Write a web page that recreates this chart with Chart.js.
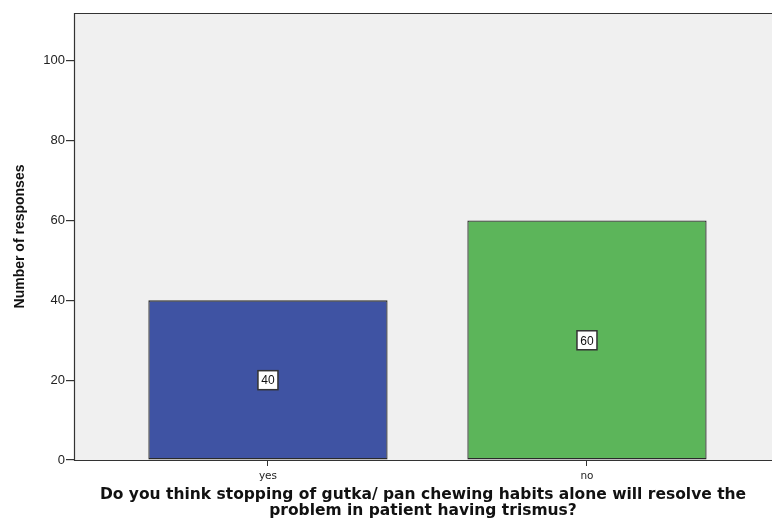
<!DOCTYPE html>
<html>
<head>
<meta charset="utf-8">
<script src="https://cdn.jsdelivr.net/npm/chart.js@4/dist/chart.umd.min.js"></script>
<style>
  html, body { margin: 0; padding: 0; background: #ffffff; }
  #wrap { width: 772px; height: 525px; }
</style>
</head>
<body>
<div id="wrap"><canvas id="chart" width="772" height="525"></canvas></div>
<script>
// Responses per answer
const categories = ['yes', 'no'];
const responses = [40, 60];
const yTicks = [0, 20, 40, 60, 80, 100];
const barColors = ['#3f53a3', '#5cb55a'];

// Outline the plot area (left, bottom and top edges) on a light grey panel
const panelPlugin = {
  id: 'panel',
  beforeDraw(chart) {
    const { ctx, chartArea: a } = chart;
    ctx.save();
    ctx.fillStyle = '#f0f0f0';
    ctx.fillRect(a.left, a.top, a.right - a.left, a.bottom - a.top);
    ctx.restore();
  },
  afterDatasetsDraw(chart) {
    const { ctx, chartArea: a } = chart;
    ctx.save();
    ctx.strokeStyle = '#333333';
    ctx.lineWidth = 1.2;
    ctx.beginPath();
    ctx.moveTo(a.right, a.top + 0.5);
    ctx.lineTo(a.left + 0.5, a.top + 0.5);
    ctx.lineTo(a.left + 0.5, a.bottom + 0.5);
    ctx.lineTo(a.right, a.bottom + 0.5);
    ctx.stroke();
    ctx.restore();
  }
};

// Boxed count label in the middle of each bar
const valueBoxPlugin = {
  id: 'valueBox',
  afterDatasetsDraw(chart) {
    const { ctx } = chart;
    const meta = chart.getDatasetMeta(0);
    const yScale = chart.scales.y;
    ctx.save();
    ctx.font = '12px "Liberation Sans", Arial, sans-serif';
    ctx.textAlign = 'center';
    ctx.textBaseline = 'middle';
    meta.data.forEach((bar, i) => {
      const v = responses[i];
      const cx = bar.x;
      const cy = yScale.getPixelForValue(v / 2);
      const w = 20, h = 19;
      ctx.fillStyle = '#ffffff';
      ctx.fillRect(cx - w / 2, cy - h / 2, w, h);
      ctx.strokeStyle = '#333333';
      ctx.lineWidth = 1.5;
      ctx.strokeRect(cx - w / 2, cy - h / 2, w, h);
      ctx.fillStyle = '#111111';
      ctx.fillText(String(v), cx, cy + 1);
    });
    ctx.restore();
  }
};

new Chart(document.getElementById('chart'), {
  type: 'bar',
  data: {
    datasets: [{
      data: responses.map((v, i) => ({ x: i + 1, y: v })),
      backgroundColor: barColors,
      borderColor: '#2a2a2a',
      borderWidth: 1.3,
      borderSkipped: false,
      categoryPercentage: 0.75,
      barPercentage: 1.0
    }]
  },
  options: {
    responsive: false,
    animation: false,
    layout: { padding: { top: 13, right: 0, left: 0, bottom: 0 } },
    plugins: {
      legend: { display: false },
      tooltip: { enabled: false }
    },
    scales: {
      x: {
        type: 'linear',
        offset: false,
        min: 0.392,
        max: 2.58,
        afterBuildTicks(scale) {
          scale.ticks = categories.map((_, i) => ({ value: i + 1 }));
        },
        afterFit(scale) { scale.height = 65; },
        grid: {
          display: true,
          offset: false,
          drawOnChartArea: false,
          drawTicks: true,
          tickLength: 6,
          color: '#333333',
          lineWidth: 1
        },
        border: { display: false },
        ticks: {
          padding: 4,
          color: '#222222',
          font: { family: '"DejaVu Sans", Verdana, sans-serif', size: 10.5 },
          callback(value) {
            const idx = Math.round(value) - 1;
            return categories[idx] !== undefined ? categories[idx] : '';
          }
        },
        title: {
          display: true,
          text: ['Do you think stopping of gutka/ pan chewing habits alone will resolve the',
                 'problem in patient having trismus?'],
          color: '#111111',
          font: { family: '"DejaVu Sans", Verdana, sans-serif', size: 15.5, weight: 'bold', lineHeight: '16px' },
          padding: { top: 0, bottom: 6 }
        }
      },
      y: {
        min: 0,
        max: 112,
        afterBuildTicks(scale) {
          scale.ticks = yTicks.map(v => ({ value: v }));
        },
        afterFit(scale) { scale.width = 74; },
        grid: {
          display: true,
          drawOnChartArea: false,
          drawTicks: true,
          tickLength: 8,
          color: '#333333',
          lineWidth: 1.2
        },
        border: { display: false },
        ticks: {
          padding: 1,
          color: '#222222',
          font: { family: '"Liberation Sans", Arial, sans-serif', size: 13 }
        },
        title: {
          display: true,
          text: 'Number of responses',
          color: '#111111',
          font: { family: '"Liberation Sans", Arial, sans-serif', size: 14, weight: 'bold', lineHeight: '16px' },
          padding: { top: 12, bottom: 0 }
        }
      }
    }
  },
  plugins: [panelPlugin, valueBoxPlugin]
});
</script>
</body>
</html>
